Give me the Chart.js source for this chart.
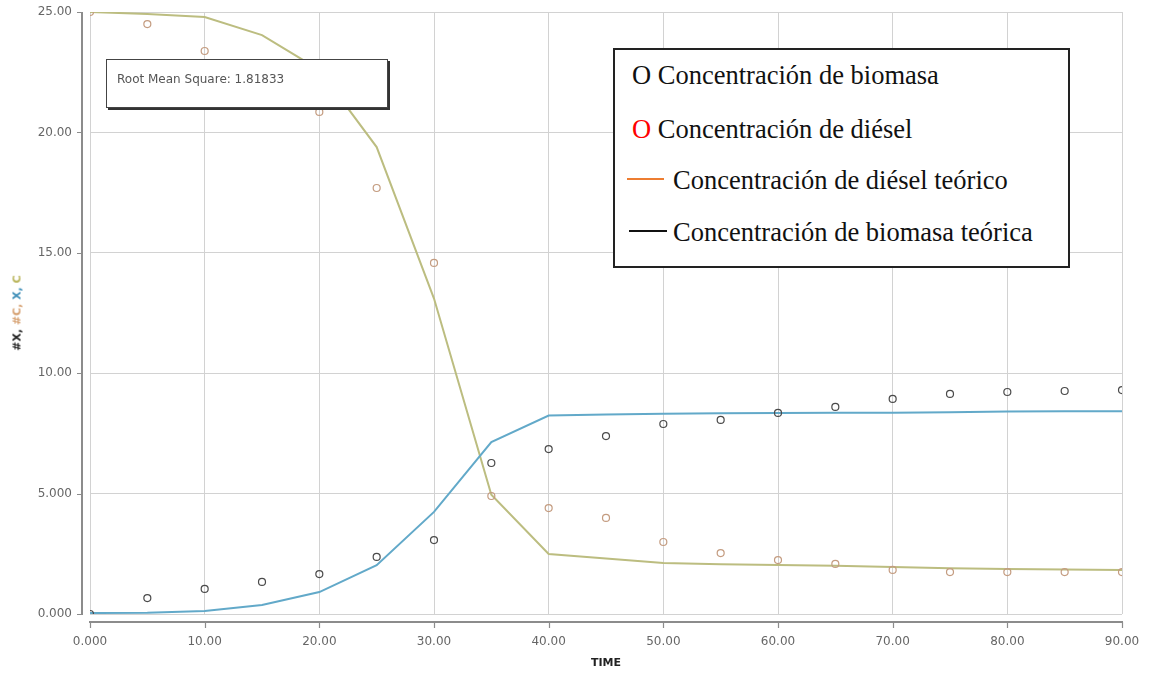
<!DOCTYPE html>
<html>
<head>
<meta charset="utf-8">
<script src="https://cdn.jsdelivr.net/npm/chart.js@4.4.1/dist/chart.umd.min.js"></script>
<style>
  html, body { margin: 0; padding: 0; background: #fff; }
  #wrap { position: relative; width: 1149px; height: 674px; overflow: hidden; }
  #chart { position: absolute; left: 0; top: 0; }
  #ytitle {
    position: absolute; left: 17px; top: 313px;
    transform: translate(-50%, -50%) rotate(-90deg);
    font: bold 11px "DejaVu Sans", sans-serif; white-space: nowrap;
  }
  #rms {
    position: absolute; left: 106px; top: 59px; width: 280px; height: 47px;
    background: #fff; border: 1px solid #444;
    box-shadow: 2px 2px 0 #333;
  }
  #rms span {
    position: absolute; left: 10px; top: 12px;
    font: 12px "DejaVu Sans", sans-serif; color: #555; white-space: nowrap;
  }
  #legend {
    position: absolute; left: 613px; top: 48px; width: 453px; height: 216px;
    background: #fff; border: 2px solid #222;
    font-family: "Liberation Serif", "Times New Roman", serif; font-size: 26.5px; color: #111;
  }
  .row { position: absolute; left: 0; white-space: nowrap; line-height: 30px; height: 30px; }
  .sw { position: absolute; height: 2px; }
</style>
</head>
<body>
<div id="wrap">
  <canvas id="chart" width="1149" height="674"></canvas>
  <div id="ytitle"><span style="color:#222">#X, </span><span style="color:#d6a070">#C, </span><span style="color:#3f8fb8">X, </span><span style="color:#b9b45a">C</span></div>
  <div id="rms"><span>Root Mean Square: 1.81833</span></div>
  <div id="legend">
    <div class="row" style="left:17px; top:10px;">O Concentración de biomasa</div>
    <div class="row" style="left:17px; top:64px;"><span style="color:#ff0000">O</span> Concentración de diésel</div>
    <div class="sw" style="left:12px; width:37px; top:128px; background:#ed7d31;"></div>
    <div class="row" style="left:58px; top:115px;">Concentración de diésel teórico</div>
    <div class="sw" style="left:14px; width:38px; top:180px; background:#111;"></div>
    <div class="row" style="left:58px; top:167px;">Concentración de biomasa teórica</div>
  </div>
</div>
<script>
// Sampling times (TIME)
const time = [0, 5, 10, 15, 20, 25, 30, 35, 40, 45, 50, 55, 60, 65, 70, 75, 80, 85, 90];

// Measured concentrations
const biomasaMedida = [0, 0.66, 1.04, 1.33, 1.66, 2.37, 3.07, 6.27, 6.85, 7.39, 7.89, 8.06, 8.35, 8.6, 8.93, 9.14, 9.22, 9.26, 9.3];
const dieselMedido = [25, 24.5, 23.38, 22.1, 20.85, 17.69, 14.58, 4.9, 4.4, 3.99, 2.99, 2.53, 2.24, 2.08, 1.83, 1.74, 1.74, 1.74, 1.74];

// Model (theoretical) concentrations
const biomasaTeorica = [0.04, 0.05, 0.12, 0.37, 0.91, 2.03, 4.24, 7.14, 8.24, 8.28, 8.32, 8.34, 8.35, 8.36, 8.36, 8.38, 8.41, 8.42, 8.42];
const dieselTeorico = [25, 24.92, 24.79, 24.04, 22.6, 19.39, 13.1, 4.95, 2.49, 2.3, 2.12, 2.07, 2.03, 2.0, 1.95, 1.9, 1.87, 1.85, 1.83];

// Axis tick labels
const xTickLabels = ['0.000', '10.00', '20.00', '30.00', '40.00', '50.00', '60.00', '70.00', '80.00', '90.00'];
const yTickLabels = ['0.000', '5.000', '10.00', '15.00', '20.00', '25.00'];

const pts = (ys) => time.map((t, i) => ({ x: t, y: ys[i] }));

// Axis lines drawn slightly outside the plot frame, with outward tick marks
const offsetAxes = {
  id: 'offsetAxes',
  afterDraw(chart) {
    const { ctx, chartArea: a, scales: { x, y } } = chart;
    const ax = a.left - 8, ay = a.bottom + 8;
    ctx.save();
    ctx.strokeStyle = '#8c8c8c';
    ctx.lineWidth = 2;
    ctx.beginPath();
    ctx.moveTo(ax, a.top); ctx.lineTo(ax, a.bottom + 1);
    ctx.moveTo(a.left - 1, ay); ctx.lineTo(a.right + 1, ay);
    ctx.stroke();
    ctx.lineWidth = 1.2;
    ctx.beginPath();
    y.ticks.forEach(t => {
      const py = Math.round(y.getPixelForValue(t.value)) + 0.5;
      ctx.moveTo(ax - 5, py); ctx.lineTo(ax, py);
    });
    x.ticks.forEach(t => {
      const px = Math.round(x.getPixelForValue(t.value)) + 0.5;
      ctx.moveTo(px, ay); ctx.lineTo(px, ay + 6);
    });
    ctx.stroke();
    ctx.restore();
  }
};

new Chart(document.getElementById('chart'), {
  type: 'scatter',
  data: {
    datasets: [
      {
        label: 'Concentración de biomasa',
        data: pts(biomasaMedida),
        showLine: false,
        pointStyle: 'circle', pointRadius: 3.5, pointBorderWidth: 1.2,
        borderColor: '#4a4a4a', backgroundColor: 'rgba(255,255,255,0)'
      },
      {
        label: 'Concentración de diésel',
        data: pts(dieselMedido),
        showLine: false,
        pointStyle: 'circle', pointRadius: 3.5, pointBorderWidth: 1.2,
        borderColor: '#c49c80', backgroundColor: 'rgba(255,255,255,0)'
      },
      {
        label: 'Concentración de biomasa teórica',
        data: pts(biomasaTeorica),
        showLine: true, tension: 0, pointRadius: 0,
        borderColor: '#62a9c9', borderWidth: 2
      },
      {
        label: 'Concentración de diésel teórico',
        data: pts(dieselTeorico),
        showLine: true, tension: 0, pointRadius: 0,
        borderColor: '#bcbd80', borderWidth: 2
      }
    ]
  },
  options: {
    responsive: false,
    animation: false,
    layout: { padding: { top: 12, right: 27, left: 0, bottom: 0 } },
    plugins: { legend: { display: false }, tooltip: { enabled: false } },
    scales: {
      x: {
        type: 'linear', min: 0, max: 90,
        afterFit: (s) => { s.height = 60; s.paddingLeft = 0; s.paddingRight = 0; },
        afterBuildTicks: (s) => { s.ticks = xTickLabels.map((_, i) => ({ value: i * 10 })); },
        ticks: {
          padding: 21, color: '#666',
          font: { family: 'DejaVu Sans', size: 12 },
          callback: (v) => xTickLabels[Math.round(v / 10)],
          maxRotation: 0, autoSkip: false
        },
        grid: { color: '#d2d2d2', lineWidth: 1, drawTicks: false },
        border: { display: false },
        title: {
          display: true, text: 'TIME', color: '#222',
          font: { family: 'DejaVu Sans', size: 11, weight: 'bold' },
          padding: { top: 0, bottom: 4 }
        }
      },
      y: {
        type: 'linear', min: 0, max: 25,
        afterFit: (s) => { s.width = 90; s.paddingTop = 0; s.paddingBottom = 0; },
        afterBuildTicks: (s) => { s.ticks = yTickLabels.map((_, i) => ({ value: i * 5 })); },
        ticks: {
          padding: 18, color: '#666',
          font: { family: 'DejaVu Sans', size: 12 },
          callback: (v) => yTickLabels[Math.round(v / 5)]
        },
        grid: { color: '#d2d2d2', lineWidth: 1, drawTicks: false },
        border: { display: false }
      }
    }
  },
  plugins: [offsetAxes]
});
</script>
</body>
</html>
